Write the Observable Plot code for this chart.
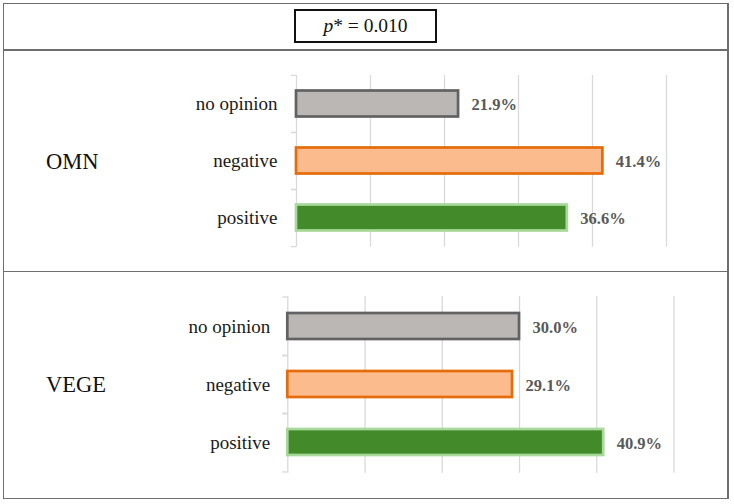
<!DOCTYPE html>
<html>
<head>
<meta charset="utf-8">
<script src="https://cdn.jsdelivr.net/npm/d3@7"></script>
<script src="https://cdn.jsdelivr.net/npm/@observablehq/plot@0.6"></script>
<style>
  html, body { margin: 0; padding: 0; background: #fff; }
  #wrap { position: relative; width: 734px; height: 504px; overflow: hidden; font-family: "Liberation Serif", serif; }
  .abs { position: absolute; }
  .line { position: absolute; background: #6e6e6e; }
  .group { position: absolute; font-family: "Liberation Serif", serif; font-size: 22.5px; color: #111; line-height: 1; }
  #pbox { position: absolute; box-sizing: border-box; border: 2.5px solid #111; display: flex; align-items: center; justify-content: center; font-family: "Liberation Serif", serif; font-size: 19.5px; color: #111; }
  svg text { font-family: "Liberation Serif", serif !important; }
</style>
</head>
<body>
<div id="wrap"></div>
<script>
// ---- data ----
const categories = ["no opinion", "negative", "positive"];
const groups = ["OMN", "VEGE"];
const omnValues = [21.9, 41.4, 36.6];
const vegeValues = [30.0, 29.1, 40.9];
const gridTicks = [10, 20, 30, 40, 50];
const pValue = "0.010";
const fills = ["#bbb7b5", "#fbbb8d", "#438a2b"];
const strokes = ["#626262", "#e46c0a", "#a8d99a"];

const SERIF = "Liberation Serif";
const wrap = document.getElementById("wrap");

// outer frame & dividers
function line(l, t, w, h) {
  const d = document.createElement("div");
  d.className = "line";
  Object.assign(d.style, {left: l + "px", top: t + "px", width: w + "px", height: h + "px"});
  wrap.appendChild(d);
}
line(2.5, 2.5, 726, 1.5);
line(2.5, 497.5, 726, 1.5);
line(2.5, 2.5, 1.5, 496.5);
line(727, 2.5, 1.5, 496.5);
line(2.5, 49, 726, 1.5);
line(2.5, 270.5, 726, 1.5);

// p-value box
const pbox = document.createElement("div");
pbox.id = "pbox";
Object.assign(pbox.style, {left: "294px", top: "9px", width: "143px", height: "34px"});
pbox.innerHTML = "<span><i>p</i>* = " + pValue + "</span>";
wrap.appendChild(pbox);

function panel(values, opts) {
  const data = categories.map((c, i) => ({cat: c, value: values[i], fill: fills[i], stroke: strokes[i]}));
  const step = (opts.height - opts.mt - opts.mb) / categories.length;
  const chart = Plot.plot({
    width: 734,
    height: opts.height,
    marginLeft: opts.ml,
    marginRight: opts.mr,
    marginTop: opts.mt,
    marginBottom: opts.mb,
    style: {fontFamily: SERIF, background: "transparent", overflow: "visible"},
    x: {domain: [0, 50], axis: null},
    y: {domain: categories, padding: 0},
    color: {type: "identity"},
    marks: [
      Plot.ruleX(gridTicks, {stroke: "#d9d9d9", strokeWidth: 1.3}),
      Plot.ruleX([0], {stroke: "#d9d9d9", strokeWidth: 1.3}),
      Plot.axisY({tickSize: 5, tickFormat: () => "", dy: -step / 2, stroke: "#d9d9d9", strokeWidth: 1.3, strokeOpacity: 1, label: null}),
      Plot.axisY({tickSize: 5, tickFormat: () => "", dy: step / 2, stroke: "#d9d9d9", strokeWidth: 1.3, strokeOpacity: 1, label: null}),
      Plot.axisY({tickSize: 0, tickPadding: opts.pad, fontSize: 19, fontFamily: SERIF, color: "#1a1a1a", label: null}),
      Plot.barX(data, {x: "value", y: "cat", fill: "fill", stroke: "stroke", strokeWidth: 2.7, insetTop: opts.inset, insetBottom: opts.inset}),
      Plot.text(data, {x: "value", y: "cat", text: d => d.value.toFixed(1) + "%", dx: 13, dy: 1, textAnchor: "start", fontFamily: SERIF, fontWeight: "bold", fontSize: 16.5, fill: "#595959"})
    ]
  });
  const holder = document.createElement("div");
  holder.className = "abs";
  holder.style.left = "0px";
  holder.style.top = opts.top + "px";
  holder.appendChild(chart);
  wrap.appendChild(holder);

  const g = document.createElement("div");
  g.className = "group";
  g.textContent = opts.group;
  g.style.left = "46px";
  g.style.top = opts.groupTop + "px";
  wrap.appendChild(g);
}

panel(omnValues, {top: 50, height: 221, ml: 296, mr: 68, mt: 25, mb: 24.3, pad: 19, inset: 15.5, group: groups[0], groupTop: 151});
panel(vegeValues, {top: 271, height: 229, ml: 287.3, mr: 60.5, mt: 25, mb: 27.3, pad: 17.5, inset: 16, group: groups[1], groupTop: 374});
</script>
</body>
</html>
